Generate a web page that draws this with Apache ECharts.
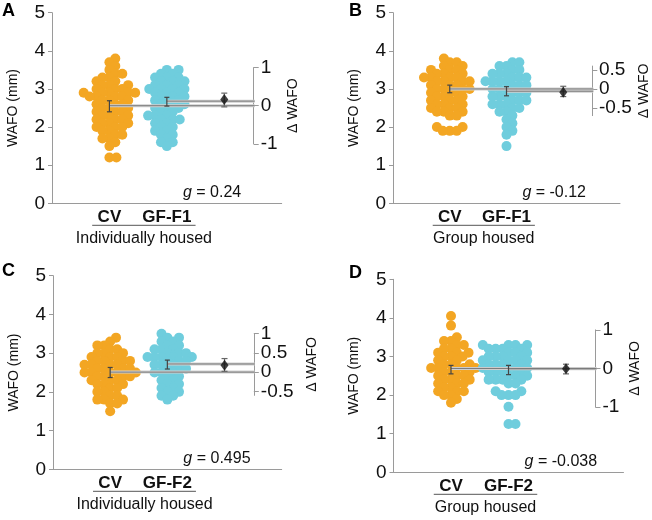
<!DOCTYPE html>
<html><head><meta charset="utf-8">
<script src="https://cdn.jsdelivr.net/npm/echarts@6/dist/echarts.min.js"></script>
<style>html,body{margin:0;padding:0;background:#fff}#c{width:652px;height:520px}</style>
</head><body><div id="c"></div>
<script>
// ---------------- data ----------------
const panelLetters = ['A', 'B', 'C', 'D'];
const controlName = 'CV';
const testNames = ['GF-F1', 'GF-F1', 'GF-F2', 'GF-F2'];
const housing = ['Individually housed', 'Group housed', 'Individually housed', 'Group housed'];
const yTicks = [0, 1, 2, 3, 4, 5];

const cvA = [3.8,3.7,3.6,3.5,3.4,3.4,3.3,3.3,3.2,3.2,3.1,3.1,3.1,3.0,3.0,3.0,2.9,2.9,2.9,2.9,2.9,2.8,2.8,2.8,2.8,2.7,2.7,2.7,2.6,2.6,2.6,2.5,2.5,2.5,2.4,2.4,2.4,2.3,2.3,2.3,2.2,2.2,2.2,2.1,2.1,2.1,2.0,2.0,2.0,1.9,1.9,1.8,1.8,1.7,1.7,1.6,1.5,1.2,1.2];
const gfA = [3.5,3.5,3.4,3.4,3.3,3.3,3.3,3.2,3.2,3.2,3.1,3.1,3.1,3.0,3.0,3.0,3.0,2.9,2.9,2.9,2.8,2.8,2.8,2.7,2.7,2.7,2.6,2.6,2.6,2.5,2.5,2.5,2.4,2.4,2.3,2.3,2.3,2.2,2.2,2.2,2.1,2.1,2.0,2.0,1.9,1.9,1.8,1.8,1.7,1.6,1.6,1.5];
const cvB = [3.8,3.7,3.7,3.6,3.6,3.5,3.5,3.5,3.4,3.4,3.4,3.3,3.3,3.3,3.3,3.2,3.2,3.2,3.2,3.1,3.1,3.1,3.0,3.0,3.0,3.0,2.9,2.9,2.9,2.8,2.8,2.8,2.7,2.7,2.7,2.6,2.6,2.6,2.5,2.5,2.5,2.4,2.4,2.4,2.3,2.3,2.0,2.0,1.9,1.9,1.9];
const gfB = [3.7,3.7,3.6,3.6,3.5,3.5,3.4,3.4,3.4,3.3,3.3,3.3,3.2,3.2,3.2,3.2,3.1,3.1,3.1,3.0,3.0,3.0,2.9,2.9,2.9,2.8,2.8,2.8,2.7,2.7,2.7,2.6,2.6,2.6,2.5,2.5,2.4,2.4,2.3,2.2,2.1,2.0,1.9,1.8,1.5];
const cvC = [3.4,3.3,3.2,3.2,3.1,3.1,3.0,3.0,3.0,2.9,2.9,2.9,2.8,2.8,2.8,2.8,2.7,2.7,2.7,2.7,2.6,2.6,2.6,2.6,2.5,2.5,2.5,2.5,2.5,2.4,2.4,2.4,2.4,2.3,2.3,2.3,2.2,2.2,2.2,2.1,2.1,2.0,2.0,1.9,1.9,1.8,1.8,1.8,1.7,1.7,1.5];
const gfC = [3.5,3.4,3.4,3.3,3.3,3.2,3.2,3.1,3.1,3.1,3.0,3.0,3.0,2.9,2.9,2.9,2.9,2.9,2.8,2.8,2.8,2.7,2.7,2.7,2.6,2.6,2.6,2.5,2.5,2.5,2.4,2.4,2.3,2.3,2.2,2.2,2.1,2.1,2.0,2.0,1.9,1.9,1.8];
const cvD = [4.05,3.8,3.5,3.4,3.4,3.3,3.3,3.2,3.2,3.1,3.1,3.1,3.0,3.0,3.0,2.9,2.9,2.8,2.8,2.8,2.7,2.7,2.7,2.7,2.7,2.6,2.6,2.6,2.5,2.5,2.5,2.4,2.4,2.4,2.3,2.3,2.3,2.2,2.2,2.1,2.1,2.1,2.0,2.0,1.9,1.8];
const gfD = [3.3,3.3,3.3,3.3,3.2,3.2,3.2,3.2,3.1,3.1,3.1,3.0,3.0,3.0,3.0,2.9,2.9,2.9,2.9,2.8,2.8,2.8,2.8,2.7,2.7,2.7,2.7,2.6,2.6,2.6,2.6,2.5,2.5,2.5,2.4,2.4,2.4,2.4,2.3,2.3,2.1,2.1,2.0,2.0,2.0,1.7,1.25,1.25];

const controlValues = [cvA, cvB, cvC, cvD];
const testValues = [gfA, gfB, gfC, gfD];

const controlMeans   = [2.56, 3.00, 2.51, 2.69];
const controlErrLow  = [2.40, 2.90, 2.37, 2.55];
const controlErrHigh = [2.69, 3.10, 2.63, 2.77];
const testMeans      = [2.68, 2.94, 2.72, 2.68];
const testErrLow     = [2.55, 2.82, 2.59, 2.53];
const testErrHigh    = [2.78, 3.06, 2.82, 2.77];
const meanDiffs      = [0.16, -0.09, 0.18, -0.01];
const diffCILow      = [-0.03, -0.20, 0.02, -0.14];
const diffCIHigh     = [0.33, 0.07, 0.35, 0.11];
const hedgesG        = ['0.24', '-0.12', '0.495', '-0.038'];
const deltaTicks     = [[-1, 0, 1], [-0.5, 0, 0.5], [-0.5, 0, 0.5, 1], [-1, 0, 1]];
const deltaRange     = [[-1, 1], [-0.7, 0.6], [-0.6, 1], [-1, 1]];

// ---------------- layout & style ----------------
const layout = [
  {left: 52, top: 12.7, width: 229.7, height: 190.6},
  {left: 393, top: 12.7, width: 227, height: 190.6},
  {left: 53, top: 275.7, width: 228.7, height: 193.6},
  {left: 393.5, top: 279.3, width: 230, height: 193}
];
const letterPos = [[2, 2], [349, 2], [2, 262], [349, 264]];
const deltaNameGap = [31, 44, 50, 32];
const X_CTRL = 1, X_TEST = 2, X_DIFF = 3, X_DAXIS = 3.53;
const ORANGE = '#F3A623', BLUE = '#6FCDDD';
const AXIS_C = '#9a9a9a', TEXT_C = '#111';
const FONT = 'Liberation Sans, Arial, Helvetica, sans-serif';
const DOT = 10, SWARM_DIST = 7;

// beeswarm layout: each point takes the free horizontal offset closest to the centre
function swarmOffsets(values, pxPerY, dist) {
  const idx = values.map((v, i) => i).sort((a, b) => values[a] - values[b]);
  const placed = [], off = new Array(values.length).fill(0);
  for (const i of idx) {
    const y = values[i] * pxPerY;
    const near = placed.filter(q => Math.abs(q.y - y) < dist);
    const bias = near.reduce((s, q) => s + q.x, 0);
    const pref = bias > 0 ? -1 : 1;
    const cands = [0];
    near.forEach(q => { const dx = Math.sqrt(dist * dist - (q.y - y) ** 2); cands.push(q.x + dx, q.x - dx); });
    cands.sort((a, b) => {
      const d = Math.abs(a) - Math.abs(b);
      if (Math.abs(d) > 1e-6) return d;
      return (b - a) * pref;
    });
    let chosen = 0;
    for (const c of cands) {
      if (near.every(q => (q.x - c) ** 2 + (q.y - y) ** 2 >= dist * dist - 1e-6)) { chosen = c; break; }
    }
    off[i] = chosen;
    placed.push({x: chosen, y});
  }
  return off;
}

function errBarSeries(p, data, color, cap, lw) {
  return {
    type: 'custom', xAxisIndex: 2 * p, yAxisIndex: 2 * p, silent: true, z: 6,
    data: data,
    encode: {x: 0, y: [1, 2]},
    renderItem: (params, api) => {
      const x = api.value(0);
      const a = api.coord([x, api.value(1)]), b = api.coord([x, api.value(2)]);
      const st = {stroke: color, lineWidth: lw};
      return {type: 'group', children: [
        {type: 'line', shape: {x1: a[0], y1: a[1], x2: b[0], y2: b[1]}, style: st},
        {type: 'line', shape: {x1: a[0] - cap, y1: a[1], x2: a[0] + cap, y2: a[1]}, style: st},
        {type: 'line', shape: {x1: b[0] - cap, y1: b[1], x2: b[0] + cap, y2: b[1]}, style: st}
      ]};
    }
  };
}

const grids = [], xAxes = [], yAxes = [], series = [];
for (let p = 0; p < 4; p++) {
  const L = layout[p];
  const pxX = L.width / 4, pxY = L.height / 5;
  const cm = controlMeans[p];
  const [dmin, dmax] = deltaRange[p];
  grids.push({left: L.left, top: L.top, width: L.width, height: L.height, containLabel: false});
  grids.push({
    left: L.left + X_DAXIS * pxX - 1, width: 1,
    top: L.top + (5 - (cm + dmax)) * pxY, height: (dmax - dmin) * pxY, containLabel: false
  });
  xAxes.push({
    type: 'value', gridIndex: 2 * p, min: 0, max: 4,
    axisLine: {show: true, lineStyle: {color: AXIS_C, width: 1}},
    axisTick: {show: false}, splitLine: {show: false},
    axisLabel: {
      customValues: [X_CTRL, X_TEST], margin: 6,
      formatter: v => (v === X_CTRL ? controlName : testNames[p]),
      fontWeight: 'bold', fontSize: 17, color: TEXT_C, fontFamily: FONT
    }
  });
  xAxes.push({type: 'value', gridIndex: 2 * p + 1, min: 0, max: 1, show: false});
  yAxes.push({
    type: 'value', gridIndex: 2 * p, min: 0, max: 5, interval: 1,
    axisLine: {show: true, lineStyle: {color: AXIS_C, width: 1}},
    axisTick: {show: true, length: 4, lineStyle: {color: AXIS_C}},
    splitLine: {show: false},
    axisLabel: {customValues: yTicks, fontSize: 19, color: TEXT_C, margin: 7, fontFamily: FONT},
    name: 'WAFO (mm)', nameLocation: 'middle', nameGap: 32,
    nameTextStyle: {fontSize: 14, color: TEXT_C, fontFamily: FONT}
  });
  yAxes.push({
    type: 'value', gridIndex: 2 * p + 1, position: 'right', min: dmin, max: dmax,
    axisLine: {show: true, lineStyle: {color: AXIS_C, width: 1}},
    axisTick: {show: true, customValues: deltaTicks[p], length: 5, lineStyle: {color: AXIS_C}},
    splitLine: {show: false},
    axisLabel: {customValues: deltaTicks[p], fontSize: 19, color: TEXT_C, margin: 6, fontFamily: FONT,
      formatter: v => String(v)},
    name: 'Δ WAFO', nameLocation: 'middle', nameRotate: 90, nameGap: deltaNameGap[p],
    nameTextStyle: {fontSize: 14, color: TEXT_C, fontFamily: FONT}
  });

  const cv = controlValues[p], gf = testValues[p];
  const cOff = swarmOffsets(cv, pxY, SWARM_DIST), tOff = swarmOffsets(gf, pxY, SWARM_DIST);
  series.push({
    type: 'scatter', xAxisIndex: 2 * p, yAxisIndex: 2 * p, symbol: 'circle', symbolSize: DOT, silent: true, z: 2,
    itemStyle: {color: ORANGE, opacity: 1},
    data: cv.map((v, i) => [X_CTRL + cOff[i] / pxX, v])
  });
  series.push({
    type: 'scatter', xAxisIndex: 2 * p, yAxisIndex: 2 * p, symbol: 'circle', symbolSize: DOT, silent: true, z: 2,
    itemStyle: {color: BLUE, opacity: 1},
    data: gf.map((v, i) => [X_TEST + tOff[i] / pxX, v])
  });
  const lines = [[X_CTRL, cm], [X_TEST, testMeans[p]]];
  lines.forEach(([x0, m]) => {
    series.push({type: 'line', xAxisIndex: 2 * p, yAxisIndex: 2 * p, silent: true, symbol: 'none', z: 4,
      lineStyle: {color: '#cfcfcf', width: 3}, data: [[x0, m], [X_DAXIS, m]]});
    series.push({type: 'line', xAxisIndex: 2 * p, yAxisIndex: 2 * p, silent: true, symbol: 'none', z: 5,
      lineStyle: {color: '#7a7a7a', width: 1}, data: [[x0, m], [X_DAXIS, m]]});
  });
  series.push(errBarSeries(p, [[X_CTRL, controlErrLow[p], controlErrHigh[p]], [X_TEST, testErrLow[p], testErrHigh[p]]], '#444', 2.5, 1.2));
  series.push(errBarSeries(p, [[X_DIFF, cm + diffCILow[p], cm + diffCIHigh[p]]], '#666', 3, 1.2));
  series.push({
    type: 'scatter', xAxisIndex: 2 * p, yAxisIndex: 2 * p, silent: true, z: 7,
    symbol: 'diamond', symbolSize: [8, 11], itemStyle: {color: '#111'},
    data: [[X_DIFF, cm + meanDiffs[p]]]
  });
}

const chart = echarts.init(document.getElementById('c'), null, {renderer: 'canvas'});
chart.setOption({
  animation: false,
  backgroundColor: '#fff',
  textStyle: {fontFamily: FONT},
  grid: grids, xAxis: xAxes, yAxis: yAxes, series: series
});

const graphics = [];
for (let p = 0; p < 4; p++) {
  const toPx = (x, y) => chart.convertToPixel({gridIndex: 2 * p}, [x, y]);
  const axisY = toPx(0, 0)[1];
  const a = toPx(0.7, 0), b = toPx(2.5, 0), c = toPx(1.6, 0);
  graphics.push({type: 'line', silent: true,
    shape: {x1: a[0], y1: axisY + 22, x2: b[0], y2: axisY + 22},
    style: {stroke: '#555', lineWidth: 1}});
  graphics.push({type: 'text', silent: true, x: c[0], y: axisY + 35,
    style: {text: housing[p], fontSize: 16, fontFamily: FONT, fill: TEXT_C, align: 'center', verticalAlign: 'middle'}});
  const g = toPx(2.28, 0.28);
  graphics.push({type: 'text', silent: true, x: g[0], y: g[1],
    style: {text: '{i|g} = ' + hedgesG[p], fontSize: 16, fontFamily: FONT, fill: TEXT_C, align: 'left', verticalAlign: 'middle',
      rich: {i: {fontStyle: 'italic', fontSize: 16, fontFamily: FONT, fill: TEXT_C}}}});
  graphics.push({type: 'text', silent: true, x: letterPos[p][0], y: letterPos[p][1],
    style: {text: panelLetters[p], fontSize: 18, fontWeight: 'bold', fontFamily: FONT, fill: '#000', align: 'left', verticalAlign: 'top'}});
}
chart.setOption({graphic: graphics});
</script>
</body></html>
